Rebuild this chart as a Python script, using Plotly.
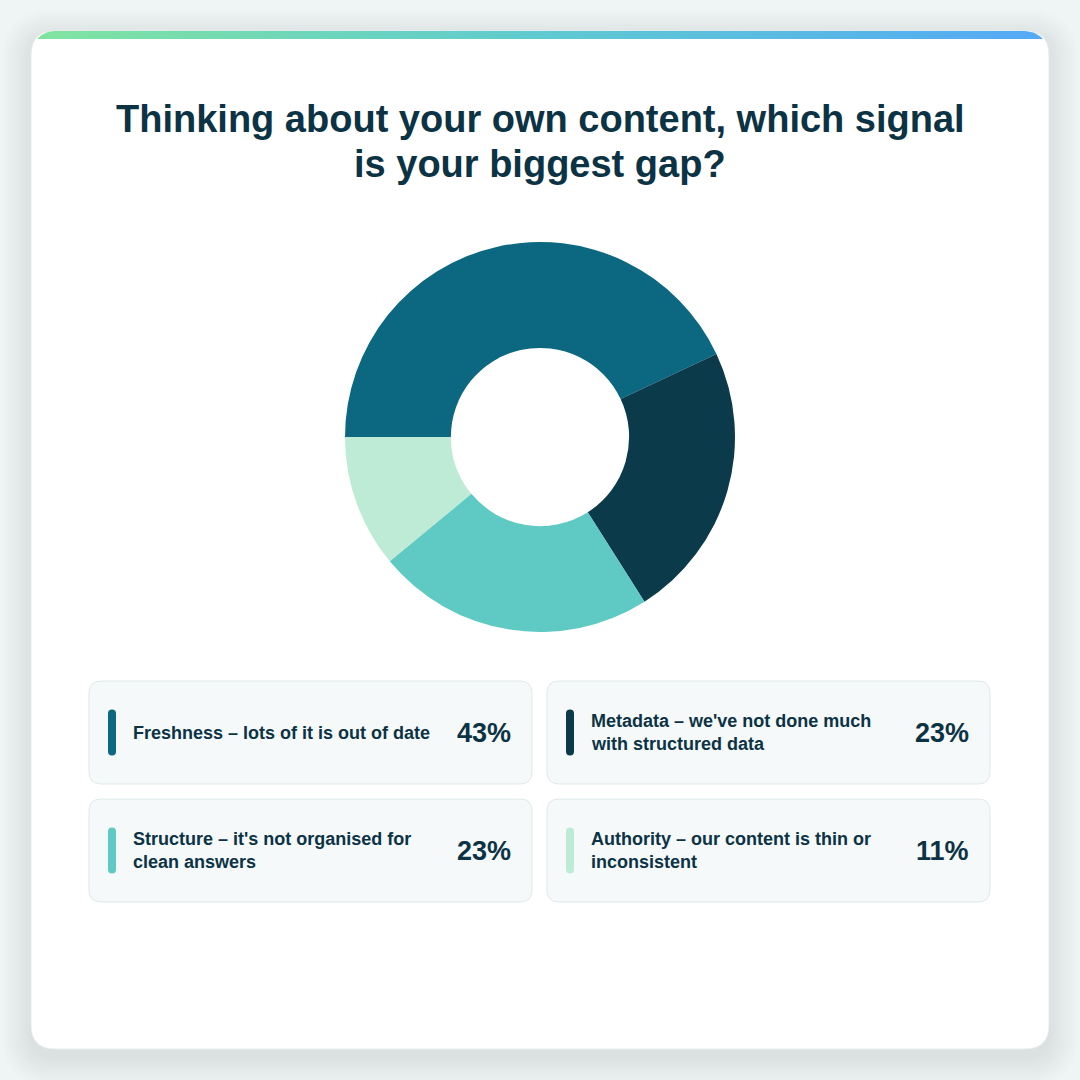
import numpy as np
import plotly.graph_objects as go

# data
labels = [
    "Freshness – lots of it is out of date",
    "Metadata – we've not done much<br>with structured data",
    "Structure – it's not organised for<br>clean answers",
    "Authority – our content is thin or<br>inconsistent",
]
values = [43, 23, 23, 11]
colors = ["#0c6780", "#0b3a4b", "#5fc9c3", "#bdebd6"]
title = "Thinking about your own content, which signal<br>is your biggest gap?"

W = H = 1080
FONT = "Liberation Sans, Arial, sans-serif"
INK = "#0c3344"


def rounded(x0, y0, x1, y1, r):
    # svg path for a rounded rect in pixel coords (y down)
    return (f"M{x0+r},{y0} L{x1-r},{y0} Q{x1},{y0} {x1},{y0+r} "
            f"L{x1},{y1-r} Q{x1},{y1} {x1-r},{y1} L{x0+r},{y1} "
            f"Q{x0},{y1} {x0},{y1-r} L{x0},{y0+r} Q{x0},{y0} {x0+r},{y0} Z")


shapes = []
# soft card shadow
for i in range(10):
    g = 2 + i * 3
    shapes.append(dict(type="path", xref="x", yref="y", layer="below",
                       path=rounded(31 - g, 31 - g + 8, 1049 + g, 1049 + g + 8, 24 + g),
                       fillcolor="rgba(70,100,110,0.011)", line=dict(width=0)))
# card
shapes.append(dict(type="path", xref="x", yref="y", layer="below",
                   path=rounded(31, 31, 1049, 1049, 24),
                   fillcolor="white", line=dict(color="#e6edef", width=1)))

# legend boxes
box_w, box_h = 443, 103
lefts = [89, 547]
tops = [681, 799]
annotations = []
for k, (lab, val, col) in enumerate(zip(labels, values, colors)):
    x0 = lefts[k % 2]
    y0 = tops[k // 2]
    x1, y1 = x0 + box_w, y0 + box_h
    cy = (y0 + y1) / 2
    shapes.append(dict(type="path", xref="x", yref="y", layer="below",
                       path=rounded(x0, y0, x1, y1, 12),
                       fillcolor="#f5f9fa", line=dict(color="#e0e9eb", width=1)))
    shapes.append(dict(type="path", xref="x", yref="y", layer="below",
                       path=rounded(x0 + 19, cy - 23, x0 + 27, cy + 23, 4),
                       fillcolor=col, line=dict(width=0)))
    lines = lab.split("<br>")
    n = len(lines)
    for j, ln in enumerate(lines):
        annotations.append(dict(x=x0 + 42, y=cy + (j - (n - 1) / 2) * 23,
                                xref="x", yref="y", xanchor="left", yanchor="middle",
                                text=f"<b>{ln}</b>", showarrow=False,
                                font=dict(family=FONT, size=18, color=INK)))
    annotations.append(dict(x=x1 - 19, y=cy, xref="x", yref="y",
                            xanchor="right", yanchor="middle",
                            text=f"<b>{val}%</b>", showarrow=False,
                            font=dict(family=FONT, size=27, color=INK)))

# title, one annotation per line
for j, ln in enumerate(title.split("<br>")):
    annotations.append(dict(x=540, y=119 + j * 45, xref="x", yref="y", xanchor="center",
                            yanchor="middle", text=f"<b>{ln}</b>", showarrow=False,
                            font=dict(family=FONT, size=38, color=INK)))

# gradient strip at the top of the card, clipped by the rounded corners
r, top, bot = 24, 31, 39
ys = np.linspace(bot, top, 12)
lx = 31 + r - np.sqrt(r**2 - (31 + r - ys) ** 2)
rx = 1049 - r + np.sqrt(r**2 - (31 + r - ys) ** 2)
strip_x = list(lx) + list(rx[::-1]) + [lx[0]]
strip_y = list(ys) + list(ys[::-1]) + [ys[0]]

fig = go.Figure()
fig.add_trace(go.Scatter(
    x=strip_x, y=strip_y, mode="lines", fill="toself", line=dict(width=0),
    fillgradient=dict(type="horizontal",
                      colorscale=[[0, "#80e4a0"], [0.5, "#5fcad0"], [1, "#55a9f6"]]),
    hoverinfo="skip", showlegend=False))

fig.add_trace(go.Pie(
    values=values, labels=[l.replace("<br>", " ") for l in labels],
    marker=dict(colors=colors, line=dict(width=0)),
    hole=0.457, sort=False, direction="clockwise", rotation=270,
    textinfo="none", hoverinfo="label+percent", showlegend=False,
    domain=dict(x=[345 / W, 735 / W], y=[1 - 632 / H, 1 - 242 / H]),
))

fig.update_layout(
    width=W, height=H, margin=dict(l=0, r=0, t=0, b=0),
    paper_bgcolor="#eff4f5", plot_bgcolor="rgba(0,0,0,0)",
    xaxis=dict(range=[0, W], visible=False, fixedrange=True),
    yaxis=dict(range=[H, 0], visible=False, fixedrange=True),
    shapes=shapes, annotations=annotations, showlegend=False,
)

# drop the page's default body margin so the figure sits at 0,0
fig.write_html("out.html", config={"displayModeBar": False},
               post_script="document.body.style.margin='0';")
